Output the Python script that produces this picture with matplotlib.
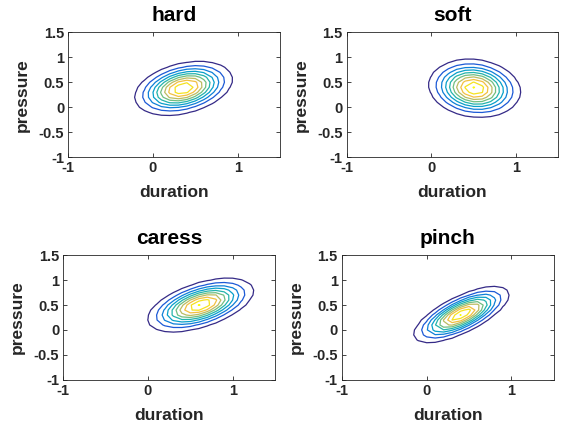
import numpy as np
import matplotlib
matplotlib.use("Agg")
import matplotlib.pyplot as plt
from matplotlib.colors import LinearSegmentedColormap

# gesture classes and their fitted 2D gaussians (duration, pressure)
classes = ["hard", "soft", "caress", "pinch"]
mean_duration = [0.36, 0.51, 0.62, 0.41]
mean_pressure = [0.38, 0.38, 0.50, 0.31]
std_duration = [0.267, 0.25, 0.29, 0.26]
std_pressure = [0.25, 0.27, 0.25, 0.262]
correlation = [0.33, -0.12, 0.53, 0.71]

# contour levels as a fraction of each peak density
level_fracs = [0.1, 0.2, 0.3, 0.4, 0.5, 0.6, 0.7, 0.8, 0.9, 0.99]

x_ticks = [-1, 0, 1]
y_ticks = [-1, -0.5, 0, 0.5, 1, 1.5]

# parula (sampled)
parula = LinearSegmentedColormap.from_list("parula", [
    (0.2081, 0.1663, 0.5292), (0.1253, 0.3242, 0.8303), (0.0498, 0.4586, 0.8641),
    (0.0641, 0.5570, 0.8240), (0.0228, 0.6535, 0.7768), (0.1453, 0.7098, 0.6646),
    (0.3953, 0.7459, 0.5244), (0.6473, 0.7456, 0.4188), (0.8507, 0.7299, 0.3360),
    (0.9990, 0.7653, 0.2164), (0.9589, 0.8949, 0.1132), (0.9763, 0.9831, 0.0538)])

plt.rcParams["font.family"] = ["Liberation Sans", "DejaVu Sans"]
plt.rcParams["font.weight"] = "bold"
plt.rcParams["axes.unicode_minus"] = False

W, H = 562, 426
fig = plt.figure(figsize=(W / 100, H / 100), dpi=100)

# axes boxes in pixels: left, top, right, bottom
boxes = [(68.3, 32.3, 280, 157.3), (346.6, 32.3, 558.4, 157.3),
         (63.3, 255.3, 275, 379.7), (342, 255.3, 553.7, 379.7)]

gx = np.arange(-1, 1.5001, 0.1)
gy = np.arange(-1, 1.5001, 0.1)
X, Y = np.meshgrid(gx, gy)

ink = "#262626"
for i, name in enumerate(classes):
    l, t, r, b = boxes[i]
    ax = fig.add_axes([l / W, 1 - b / H, (r - l) / W, (b - t) / H])
    sx, sy, rho = std_duration[i], std_pressure[i], correlation[i]
    dx = (X - mean_duration[i]) / sx
    dy = (Y - mean_pressure[i]) / sy
    q = (dx ** 2 - 2 * rho * dx * dy + dy ** 2) / (1 - rho ** 2)
    peak = 1 / (2 * np.pi * sx * sy * np.sqrt(1 - rho ** 2))
    Z = peak * np.exp(-q / 2)
    levels = [f * peak for f in level_fracs]
    ax.contour(X, Y, Z, levels=levels, cmap=parula, linewidths=0.9)

    ax.set_xlim(-1, 1.5)
    ax.set_ylim(-1, 1.5)
    ax.set_xticks(x_ticks)
    ax.set_yticks(y_ticks)
    ax.set_yticklabels(["-1", "-0.5", "0", "0.5", "1", "1.5"])
    ax.set_xticklabels(["-1", "0", "1"])
    ax.tick_params(direction="in", length=3, width=0.6, top=True, right=True,
                   labelsize=10.5, colors=ink, pad=3)
    for lab in ax.get_xticklabels() + ax.get_yticklabels():
        lab.set_fontweight("bold")
    for s in ax.spines.values():
        s.set_color(ink)
        s.set_linewidth(0.6)
    ax.set_title(name, fontsize=15, fontweight="bold", pad=8)
    ax.set_xlabel("duration", fontsize=12.5, fontweight="bold", color=ink, labelpad=7)
    ax.set_ylabel("pressure", fontsize=12.5, fontweight="bold", color=ink, labelpad=6)

fig.savefig("out.png", dpi=100)
